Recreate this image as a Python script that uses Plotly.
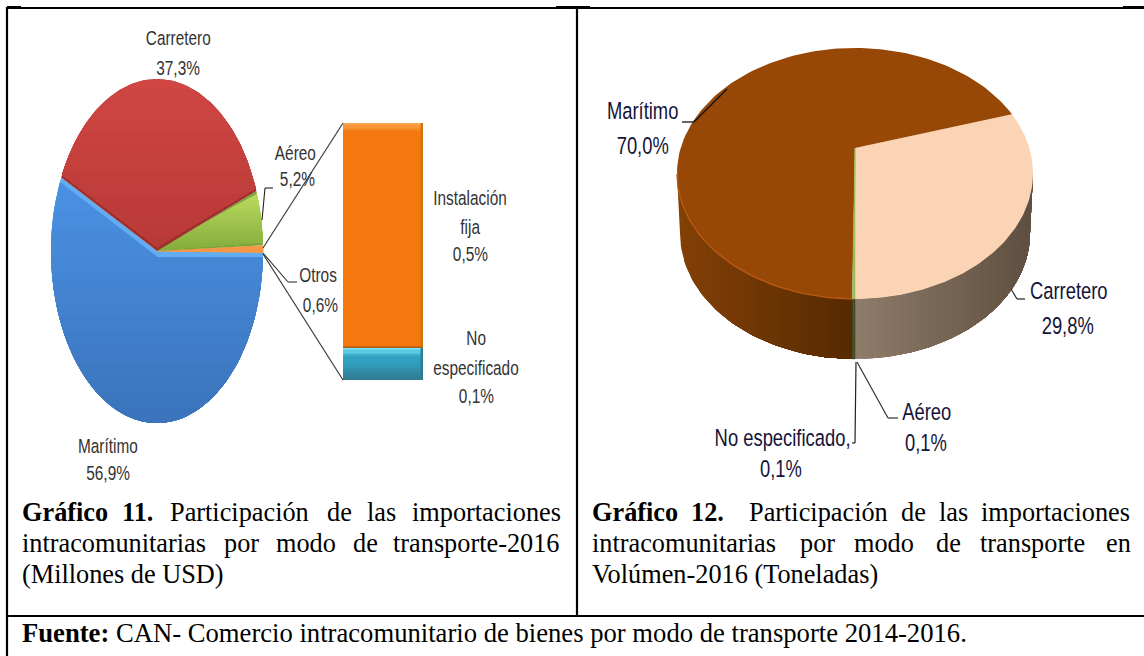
import math
import plotly.graph_objects as go

# ---- data ----
modos_11 = ["Marítimo", "Otros", "Aéreo", "Carretero"]
valores_11 = [56.9, 0.6, 5.2, 37.3]
modos_otros = ["No especificado", "Instalación fija"]
valores_otros = [0.075, 0.525]   # rounded labels 0,1 % and 0,5 %
modos_12 = ["Carretero", "Marítimo", "No especificado", "Aéreo"]
valores_12 = [29.8, 70.0, 0.1, 0.1]

W, H = 1144, 656
SANS = "Liberation Sans, Arial, sans-serif"
SERIF = "Liberation Serif, Times New Roman, serif"

fig = go.Figure()


def hexrgb(c):
    return tuple(int(c[i:i + 2], 16) for i in (1, 3, 5))


def mix(a, b, f):
    ra, rb = hexrgb(a), hexrgb(b)
    return "rgb(%d,%d,%d)" % tuple(round(p + (q - p) * f) for p, q in zip(ra, rb))


def clip(poly, axis, val):
    """Keep the part of poly whose coordinate `axis` is >= val."""
    out = []
    for i in range(len(poly)):
        p, q = poly[i], poly[(i + 1) % len(poly)]
        pin, qin = p[axis] >= val, q[axis] >= val
        if pin:
            out.append(p)
        if pin != qin:
            f = (val - p[axis]) / (q[axis] - p[axis])
            out.append((p[0] + (q[0] - p[0]) * f, p[1] + (q[1] - p[1]) * f))
    return out


def fill(poly, color, lw=0, lc=None):
    if len(poly) < 3:
        return
    xs = [p[0] for p in poly] + [poly[0][0]]
    ys = [p[1] for p in poly] + [poly[0][1]]
    fig.add_trace(go.Scatter(x=xs, y=ys, mode="lines", fill="toself", fillcolor=color,
                             line=dict(width=lw, color=lc or color), hoverinfo="skip",
                             showlegend=False, xaxis="x", yaxis="y"))


def gradient(poly, axis, c0, c1, n=16):
    vals = [p[axis] for p in poly]
    lo, hi = min(vals), max(vals)
    for k in range(n):
        v = lo + (hi - lo) * k / n
        fill(clip(poly, axis, v) if k else poly, mix(c0, c1, k / (n - 1)))


# ---- Gráfico 11: flattened pie seen as a tall ellipse ----
CX1, CY1, RX1, RY1 = 157, 251, 106, 172
START_11 = 154.7


def arc1(t0, t1, n=90):
    return [(CX1 + RX1 * math.cos(math.radians(t0 + (t1 - t0) * i / n)),
             CY1 - RY1 * math.sin(math.radians(t0 + (t1 - t0) * i / n))) for i in range(n + 1)]


style_11 = {
    "Marítimo": ("#62ACF2", "#4A90E2", "#3B74BC", 6, 1.6),
    "Otros": ("#F79646", None, None, 0, 0),
    "Aéreo": ("#7FA43A", "#B8DA5C", "#86AE3E", -1, 1.0),
    "Carretero": ("#9E302E", "#CF4642", "#B83A37", -4, 1.0),
}
ang = START_11
for name, val in zip(modos_11, valores_11):
    sweep = val * 3.6
    edge, c0, c1, dy, trim = style_11[name]
    fill([(CX1, CY1)] + arc1(ang, ang + sweep), edge, lw=1 if c0 is None else 0)
    if c0:
        gradient([(CX1, CY1 + dy)] + arc1(ang + trim, ang + sweep - trim), 1, c0, c1)
    ang += sweep

# ---- Gráfico 11: stacked bar with the breakdown of "Otros" ----
BAR_X0, BAR_X1, BAR_Y0, BAR_Y1 = 343, 423, 123, 380
bar_colors = {"No especificado": "#2FA0C0", "Instalación fija": "#F4780E"}
for name, val in zip(modos_otros, valores_otros):
    fig.add_trace(go.Bar(x=[0], y=[val], width=1, marker=dict(color=bar_colors[name], line_width=0),
                         hoverinfo="skip", showlegend=False, xaxis="x2", yaxis="y2"))

total = sum(valores_otros)
span = BAR_Y1 - BAR_Y0
unit = total / span           # value per pixel
shapes = []


def band(y0, y1, color, x0=-0.5, x1=0.5):
    shapes.append(dict(type="rect", xref="x2", yref="y2", x0=x0, x1=x1, y0=y0, y1=y1,
                       fillcolor=color, line_width=0, layer="above"))


def band_gradient(top, px, c0, c1, n):
    """Bands going down from value `top` over `px` pixels, colour c0 to c1."""
    for k in range(n):
        band(top - (k + 1) * px / n * unit, top - k * px / n * unit, mix(c0, c1, k / (n - 1)))


split = valores_otros[0]
band_gradient(total, 10, "#F9AE58", "#F4780E", 8)
band_gradient(split + 3 * unit, 3, "#F4780E", "#A85C18", 3)
band_gradient(split, 10, "#7FEBFA", "#2FA0C0", 8)
band_gradient(split - 14 * unit, 18, "#2FA0C0", "#327A92", 9)
band(split, total, "#CF7210", 0.47, 0.5)
band(0, split, "#2A7D95", 0.47, 0.5)

# ---- Gráfico 12: 3-D pie in perspective ----
CX2, VY2, A2, B2, K2 = 855, 148, 174.3, 120.3, 0.203
DEPTH2, SHRINK2 = 60, 0.983


def top2(deg):
    c, s = math.cos(math.radians(deg)), math.sin(math.radians(deg))
    w = 1 + K2 * s
    return (CX2 + A2 * c / w, VY2 - B2 * s / w)


def low2(p):
    return (CX2 + (p[0] - CX2) * SHRINK2, p[1] + DEPTH2)


def arc2(t0, t1, n=140):
    return [top2(t0 + (t1 - t0) * i / n) for i in range(n + 1)]


style_12 = {
    "Carretero": ("#FBD4B5", "#8F7B69", "#5F4F40"),
    "Marítimo": ("#974706", "#834006", "#572A02"),
    "No especificado": ("#9BBB59", "#3D4A20", "#3D4A20"),
    "Aéreo": ("#9BBB59", "#3D4A20", "#3D4A20"),
}
ang = -90.0
slices2 = []
for name, val in zip(modos_12, valores_12):
    slices2.append((name, ang, ang + val * 3.6))
    ang += val * 3.6

# side walls, only the part of each slice facing the viewer
for name, t0, t1 in slices2:
    pts = arc2(t0, t1)
    top_color, c0, c1 = style_12[name]
    if name == "Carretero":
        last = max(range(len(pts)), key=lambda i: pts[i][0])
        front = pts[:last + 1]
        wall = front + [low2(p) for p in reversed(front)]
        gradient(wall, 0, c0, c1, n=24)
    elif name == "Marítimo":
        first = min(range(len(pts)), key=lambda i: pts[i][0])
        front = pts[first:]
        wall = front + [low2(p) for p in reversed(front)]
        gradient(wall, 0, c0, c1, n=24)
    else:
        wall = pts + [low2(p) for p in reversed(pts)]
        fill(wall, c0, lw=0.5)

# top faces
for name, t0, t1 in slices2:
    thin = t1 - t0 < 1
    fill([(CX2, VY2)] + arc2(t0, t1), style_12[name][0], lw=0.5 if thin else 0)

# bright rim along the front of the brown slice
rim = arc2(slices2[1][1], slices2[1][2])
rim = rim[min(range(len(rim)), key=lambda i: rim[i][0]):]
fig.add_trace(go.Scatter(x=[p[0] for p in rim], y=[p[1] for p in rim], mode="lines",
                         line=dict(color="#B85A12", width=1.4), hoverinfo="skip",
                         showlegend=False, xaxis="x", yaxis="y"))


# ---- rules and leader lines ----
def line(pts, color="#000000", width=1.0):
    for (x0, y0), (x1, y1) in zip(pts, pts[1:]):
        shapes.append(dict(type="line", xref="x", yref="y", x0=x0, y0=y0, x1=x1, y1=y1,
                           line=dict(color=color, width=width), layer="above"))


line([(7, 8), (W, 8)], width=2)
line([(7, 7), (21, 7)], width=2)
line([(556, 7), (590, 7)], width=2)
line([(1123, 7), (W, 7)], width=2)
line([(7, 7), (7, H)], width=2.2)
line([(577, 8), (577, 616)], width=2.2)
line([(7, 616), (W, 616)], width=2.2)

line([(263, 248), (BAR_X0, BAR_Y0)], "#3C3C3C", 1.2)
line([(263, 254), (BAR_X0, BAR_Y1)], "#3C3C3C", 1.2)
line([(262, 220), (265, 188), (273, 188)], "#222222", 1.1)
line([(263, 253), (288, 282), (297, 282)], "#333333", 1.1)
line([(682, 122), (694, 122), (727, 89)], "#111111", 1.3)
line([(1025, 299), (1017, 299), (1011, 289)], "#222222", 1.2)
line([(856, 362), (855, 443), (852, 443)], "#222222", 1.2)
line([(857, 362), (888, 418), (898, 418)], "#333333", 1.2)

# ---- texts ----
ann = []


def label(text, x, y, size=20.5, color="#333333"):
    ann.append(dict(text=text, x=x, y=y, xref="x", yref="y", xanchor="center", yanchor="middle",
                    showarrow=False, font=dict(family=SANS, size=size, color=color)))


def word(text, x, base, size=26.3):
    ann.append(dict(text=text, x=x, y=base - size * 0.28, xref="x", yref="y", xanchor="left",
                    yanchor="middle", showarrow=False, borderpad=0, xshift=-1,
                    font=dict(family=SERIF, size=size, color="#000000")))


for t, x, y in [("Carretero", 178, 37), ("37,3%", 178, 67),
                ("Aéreo", 295, 152), ("5,2%", 297, 178),
                ("Otros", 318, 274), ("0,6%", 320, 304),
                ("Instalación", 470, 197), ("fija", 470, 226), ("0,5%", 470, 253),
                ("No", 476, 337), ("especificado", 476, 367), ("0,1%", 476, 395),
                ("Marítimo", 108, 445), ("56,9%", 108, 472)]:
    label(t, x, y)

NAVY = "#14143A"
for t, x, y in [("Marítimo", 642, 110), ("70,0%", 642, 145),
                ("Carretero", 1068, 290), ("29,8%", 1067, 325),
                ("Aéreo", 926, 411), ("0,1%", 926, 442),
                ("No especificado,", 782, 437), ("0,1%", 781, 468)]:
    label(t, x, y, size=24.5, color=NAVY)

for t, x, b in [("<b>Gráfico</b>", 22, 520), ("<b>11.</b>", 122, 520), ("Participación", 170, 520),
                ("de", 327, 520), ("las", 367, 520), ("importaciones", 412, 520),
                ("intracomunitarias", 22, 551), ("por", 224, 551), ("modo", 276, 551),
                ("de", 353, 551), ("transporte-2016", 393, 551),
                ("(Millones de USD)", 22, 582),
                ("<b>Gráfico</b>", 592, 520), ("<b>12.</b>", 691, 520), ("Participación", 749, 520),
                ("de", 901, 520), ("las", 939, 520), ("importaciones", 981, 520),
                ("intracomunitarias", 592, 551), ("por", 800, 551), ("modo", 854, 551),
                ("de", 936, 551), ("transporte", 980, 551), ("en", 1106, 551),
                ("Volúmen-2016 (Toneladas)", 592, 582)]:
    word(t, x, b)
word("<b>Fuente:</b> CAN- Comercio intracomunitario de bienes por modo de transporte 2014-2016.", 22, 640, size=26.65)

fig.update_layout(
    width=W, height=H, autosize=False, margin=dict(l=0, r=0, t=0, b=0),
    paper_bgcolor="#FFFFFF", plot_bgcolor="rgba(0,0,0,0)", barmode="stack",
    xaxis=dict(range=[0, W], visible=False, domain=[0, 1], fixedrange=True),
    yaxis=dict(range=[H, 0], visible=False, domain=[0, 1], fixedrange=True),
    xaxis2=dict(range=[-0.5, 0.5], visible=False, anchor="y2", fixedrange=True,
                domain=[BAR_X0 / W, BAR_X1 / W]),
    yaxis2=dict(range=[0, total], visible=False, anchor="x2", fixedrange=True,
                domain=[1 - BAR_Y1 / H, 1 - BAR_Y0 / H]),
    shapes=shapes, annotations=ann,
)

# The labels of the reference are set in a tall condensed face: squeeze the sans text.
POST = """
document.body.style.margin = '0';
document.body.style.overflow = 'hidden';
document.querySelectorAll('.annotation-text').forEach(function (t) {
  if (t.style.fontFamily.indexOf('Sans') >= 0 || t.style.fontFamily.indexOf('sans') >= 0) {
    var w = t.getComputedTextLength();
    t.setAttribute('textLength', (w * 0.75).toFixed(1));
    t.setAttribute('lengthAdjust', 'spacingAndGlyphs');
  }
});
"""
fig.write_html("out.html", config=dict(displayModeBar=False), post_script=POST)
